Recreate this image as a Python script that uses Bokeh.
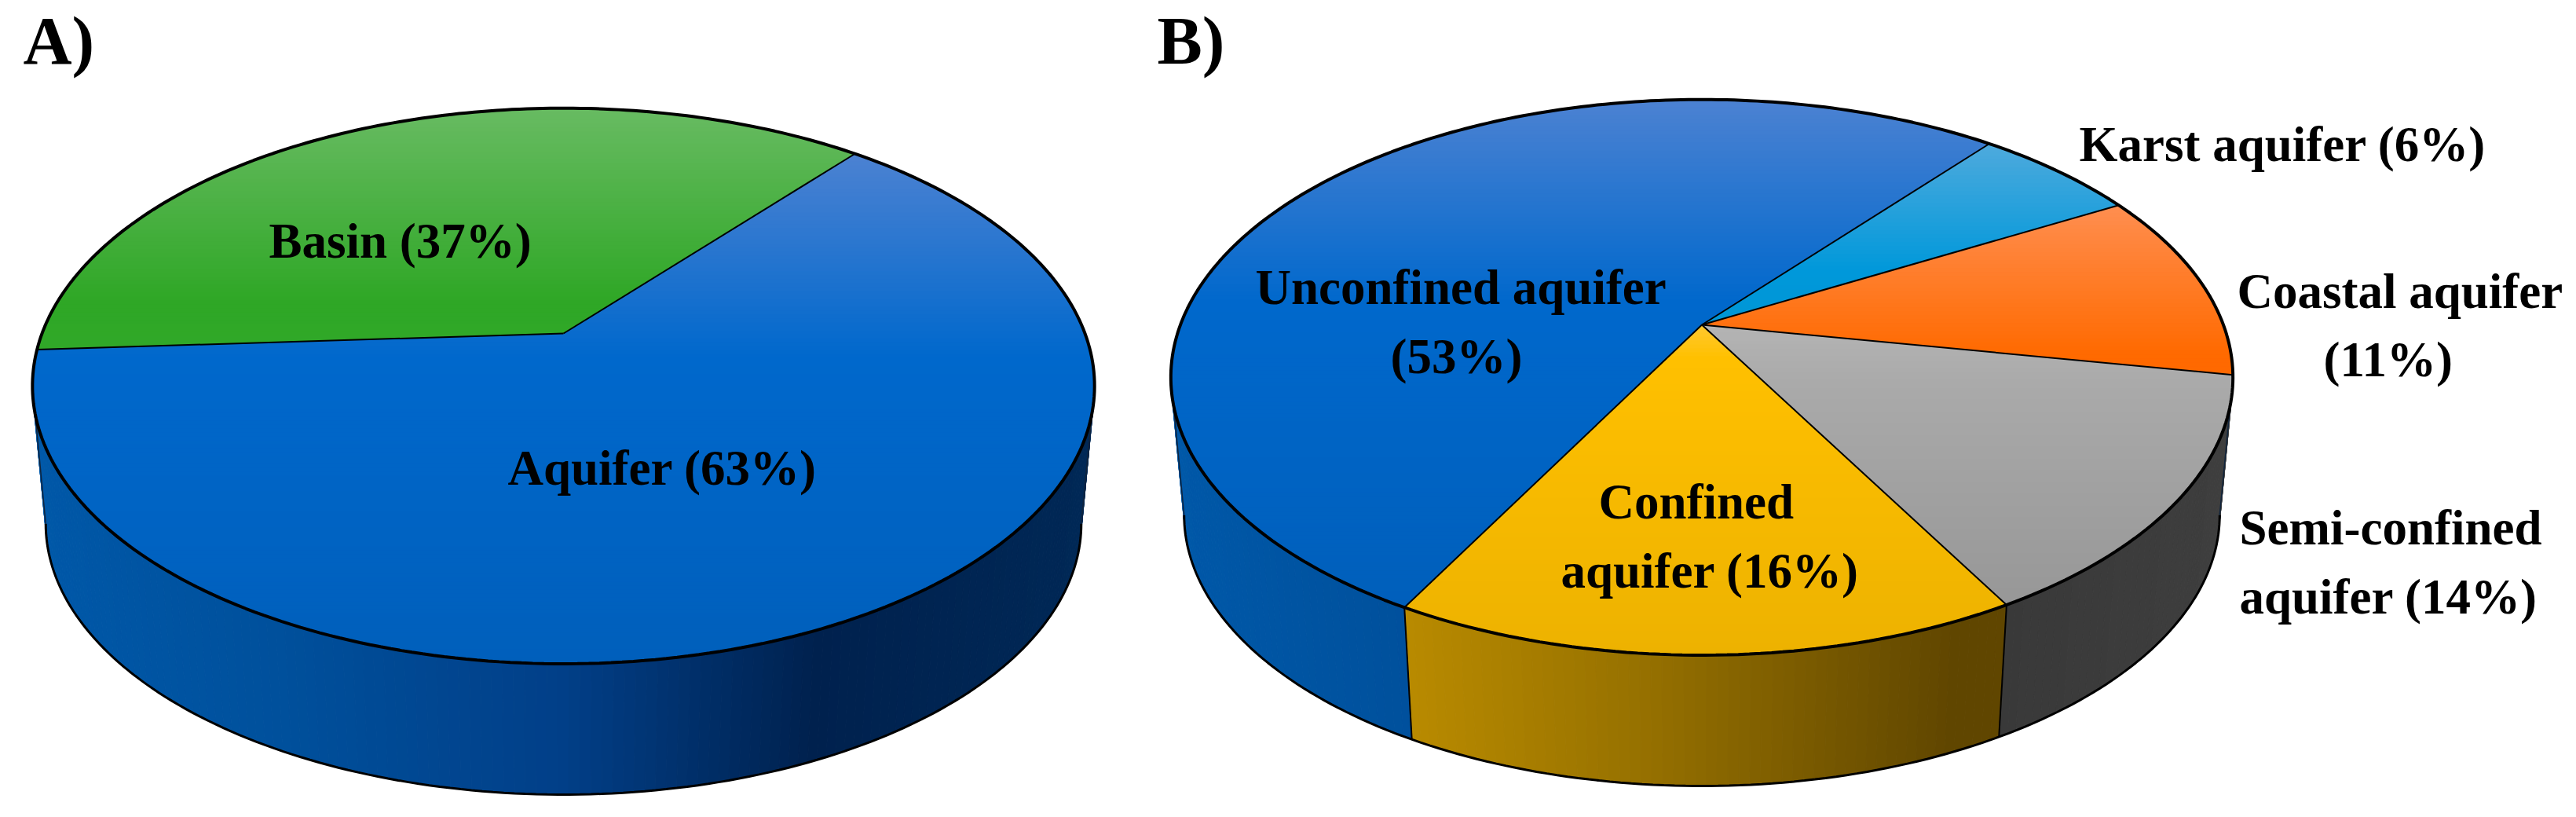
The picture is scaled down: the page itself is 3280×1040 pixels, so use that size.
import math
from bokeh.plotting import figure
from bokeh.models import Range1d
from bokeh.core.properties import value
from bokeh.embed import file_html
from bokeh.resources import INLINE

# ---------- data ----------
a_categories = ["Aquifer", "Basin"]
a_values = [63, 37]
b_categories = ["Karst aquifer", "Coastal aquifer", "Semi-confined aquifer", "Confined aquifer", "Unconfined aquifer"]
b_values = [6, 11, 14, 16, 53]
panel_titles = ["A)", "B)"]

# ---------- styles ----------
BLUE_TOP = [(0, "#4C82D2"), (0.40, "#0068CC"), (1, "#005FBB")]
GREEN_TOP = [(0, "#68BB62"), (0.8, "#2FA726"), (1, "#30A828")]
KARST_TOP = [(0, "#4EAADD"), (0.70, "#0098DA"), (1, "#0096D6")]
ORANGE_TOP = [(0, "#FF8E50"), (0.88, "#FF6A00"), (1, "#FF6800")]
GRAY_TOP = [(0, "#B4B4B4"), (0.2, "#AAAAAA"), (1, "#979797")]
GOLD_TOP = [(0, "#FFC830"), (0.1, "#FFC000"), (1, "#EDB200")]

BLUE_SIDE = [(0, "#0058A8"), (0.227, "#00509C"), (0.5, "#013F88"), (0.74, "#00214E"), (1, "#002856")]
GOLD_SIDE = [(0, "#C49400"), (0.227, "#B88A00"), (0.45, "#957000"), (0.74, "#604600"), (1, "#604600")]
GRAY_SIDE = [(0, "#3C3C3C"), (0.74, "#383838"), (1, "#3E3E3E")]

A_STYLE = {"Aquifer": (BLUE_TOP, BLUE_SIDE), "Basin": (GREEN_TOP, BLUE_SIDE)}
B_STYLE = {
    "Karst aquifer": (KARST_TOP, BLUE_SIDE),
    "Coastal aquifer": (ORANGE_TOP, GRAY_SIDE),
    "Semi-confined aquifer": (GRAY_TOP, GRAY_SIDE),
    "Confined aquifer": (GOLD_TOP, GOLD_SIDE),
    "Unconfined aquifer": (BLUE_TOP, BLUE_SIDE),
}

# perspective of the tilted disc
PERSP, DEPTH_T, WIDTH_S = 0.189, 341.0, 664.0
BOTTOM_K, BOTTOM_D = 0.975, 177.0
HALF_W = WIDTH_S / math.sqrt(1 - PERSP ** 2)
FRONT_FROM = math.degrees(math.atan2(-PERSP, -math.sqrt(1 - PERSP ** 2))) + 360
FRONT_TO = math.degrees(math.atan2(-PERSP, math.sqrt(1 - PERSP ** 2))) + 360


def hex2rgb(h):
    return tuple(int(h[i:i + 2], 16) for i in (1, 3, 5))


def ramp(stops, t):
    t = max(0.0, min(1.0, t))
    for (t0, c0), (t1, c1) in zip(stops, stops[1:]):
        if t <= t1:
            f = 0 if t1 == t0 else (t - t0) / (t1 - t0)
            a, b = hex2rgb(c0), hex2rgb(c1)
            return "#%02x%02x%02x" % tuple(round(a[i] + (b[i] - a[i]) * f) for i in range(3))
    return stops[-1][1]


def top_pt(ax, ay, deg):
    u, v = math.cos(math.radians(deg)), math.sin(math.radians(deg))
    w = 1 + PERSP * v
    return ax + WIDTH_S * u / w, ay - DEPTH_T * v / w


def bot_pt(ax, ay, deg):
    u, v = math.cos(math.radians(deg)), math.sin(math.radians(deg))
    w = 1 + PERSP * v
    return ax + BOTTOM_K * WIDTH_S * u / w, ay - BOTTOM_K * DEPTH_T * v / w + BOTTOM_D


def arc(fn, ax, ay, d0, d1, step=2.0):
    n = max(2, int(abs(d1 - d0) / step) + 1)
    return [fn(ax, ay, d0 + (d1 - d0) * i / n) for i in range(n + 1)]


def clip_below(poly, y0):
    out = []
    for i, (x1, y1) in enumerate(poly):
        x2, y2 = poly[(i + 1) % len(poly)]
        in1, in2 = y1 >= y0, y2 >= y0
        if in1:
            out.append((x1, y1))
        if in1 != in2:
            f = (y0 - y1) / (y2 - y1)
            out.append((x1 + (x2 - x1) * f, y0))
    return out


p = figure(width=3264, height=1024, x_range=Range1d(0, 3264), y_range=Range1d(1024, 0),
           x_axis_type=None, y_axis_type=None, toolbar_location=None,
           output_backend="svg", min_border=0, outline_line_color=None,
           background_fill_color="white", border_fill_color="white")
p.grid.visible = False


def draw_pie(categories, values, style, ax, ay, start):
    total = sum(values)
    angs = [start]
    for val in values:
        angs.append(angs[-1] - 360.0 * val / total)

    # side wall: only the part of each slice that faces the viewer
    left = ax - HALF_W
    sx, sy, sc = [], [], []
    edges = []
    for i, cat in enumerate(categories):
        hi, lo = angs[i], angs[i + 1]          # hi > lo, clockwise
        for shift in (-720, -360, 0, 360):
            d0 = max(lo + shift, FRONT_FROM - 360)
            d1 = min(hi + shift, FRONT_TO - 360)
            if d1 - d0 <= 0:
                continue
            pts = arc(top_pt, ax, ay, d0, d1, 1.0)
            pbs = arc(bot_pt, ax, ay, d0, d1, 1.0)
            for k in range(len(pts) - 1):
                xm = (pts[k][0] + pts[k + 1][0]) / 2
                sx.append([pts[k][0], pts[k + 1][0], pbs[k + 1][0], pbs[k][0]])
                sy.append([pts[k][1], pts[k + 1][1], pbs[k + 1][1], pbs[k][1]])
                sc.append(ramp(style[cat][1], (xm - left) / (2 * HALF_W)))
            if lo + shift >= FRONT_FROM - 360:
                edges.append(lo + shift)
    p.patches(sx, sy, fill_color=sc, line_color=sc, line_width=1)

    # wall outline and wall edges
    bottom = arc(bot_pt, ax, ay, FRONT_FROM - 360, FRONT_TO - 360, 1.0)
    p.line([q[0] for q in bottom], [q[1] for q in bottom], line_color="black", line_width=3)
    for d in (FRONT_FROM - 360, FRONT_TO - 360):
        t, b = top_pt(ax, ay, d), bot_pt(ax, ay, d)
        p.line([t[0], b[0]], [t[1], b[1]], line_color="#10243c", line_width=1.5)
    for d in edges:
        t, b = top_pt(ax, ay, d), bot_pt(ax, ay, d)
        p.line([t[0], b[0]], [t[1], b[1]], line_color="black", line_width=2)

    # top face: vertical gradient, painted from the top of each slice downward
    for i, cat in enumerate(categories):
        poly = [(ax, ay)] + arc(top_pt, ax, ay, angs[i], angs[i + 1], 1.5)
        ys = [q[1] for q in poly]
        y0, y1 = min(ys), max(ys)
        bx, by, bc = [], [], []
        y = y0
        while y < y1:
            c = clip_below(poly, y)
            if len(c) >= 3:
                bx.append([q[0] for q in c])
                by.append([q[1] for q in c])
                bc.append(ramp(style[cat][0], (y + 2.5 - y0) / (y1 - y0)))
            y += 5
        p.patches(bx, by, fill_color=bc, line_color=None)

    # outlines of the top face
    for d in angs[:-1]:
        t = top_pt(ax, ay, d)
        p.line([ax, t[0]], [ay, t[1]], line_color="black", line_width=2)
    rim = arc(top_pt, ax, ay, 0, 360, 1.0)
    p.line([q[0] for q in rim], [q[1] for q in rim], line_color="black", line_width=4)


draw_pie(a_categories, a_values, A_STYLE, 717, 424, 50.2)
draw_pie(b_categories, b_values, B_STYLE, 2166.5, 413, 50.8)


def lbl(cat, val):
    return f"{cat} ({val}%)"


label_text = [
    lbl("Basin", a_values[1]),
    lbl("Aquifer", a_values[0]),
    "Unconfined aquifer", f"({b_values[4]}%)",
    lbl("Karst aquifer", b_values[0]),
    "Coastal aquifer", f"({b_values[1]}%)",
    "Confined", f"aquifer ({b_values[3]}%)",
    "Semi-confined", f"aquifer ({b_values[2]}%)",
]
label_x = [342, 646, 1598, 1770, 2647, 2848, 2958, 2035, 1987, 2851, 2851]
label_y = [328, 617, 387, 475, 205.5, 392.6, 479, 660, 748, 693, 781]

p.text(x=label_x, y=label_y, text=label_text, text_font=value("Liberation Serif"),
       text_font_style="bold", text_font_size="63px", text_align="left",
       text_baseline="alphabetic", text_color="black", y_offset=-22)
p.text(x=[29, 1473], y=[83, 83], text=panel_titles, text_font=value("Liberation Serif"),
       text_font_style="bold", text_font_size="86px", text_align="left",
       text_baseline="alphabetic", text_color="black", y_offset=-32)

open("out.html", "w").write(file_html(p, INLINE))
